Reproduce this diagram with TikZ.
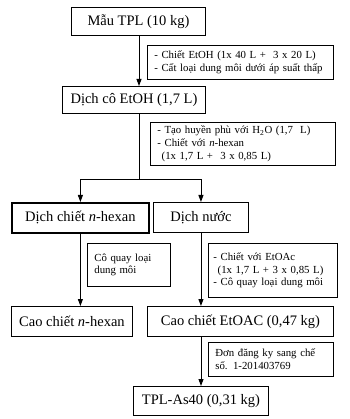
\documentclass[tikz,border=0pt]{standalone}
\usepackage{fontspec}
\setmainfont{Liberation Serif}
\usetikzlibrary{arrows.meta}

\begin{document}
\begin{tikzpicture}[x=1pt,y=-1pt,
    box/.style={draw,line width=0.9pt,inner sep=0pt,anchor=north west,
        font=\fontsize{14.5}{16}\selectfont},
    thickbox/.style={box,line width=1.8pt},
    note/.style={draw,line width=0.7pt,anchor=north west,inner xsep=7pt,
        inner ysep=0pt,align=left,font=\fontsize{10.8}{12.8}\selectfont},
    link/.style={line width=0.9pt},
    arr/.style={link,-{Triangle[length=7pt,width=5pt]}}]
    \useasboundingbox (0,0) rectangle (349,419);

    % Columns for the connectors
    \coordinate (spine) at (139,0);
    \coordinate (fork) at (139,179);
    \coordinate (wcol) at (201,0);

    % Main boxes
    \node[box,minimum width=134pt,minimum height=28pt] (tpl) at (71,7) {Mẫu TPL (10 kg)};
    \node[box,minimum width=143pt,minimum height=27pt] (etoh) at (62,86) {Dịch cô EtOH (1,7 L)};
    \node[thickbox,minimum width=137pt,minimum height=30pt] (hexan) at (11,202) {Dịch chiết \textit{n}-hexan};
    \node[box,minimum width=95pt,minimum height=30pt] (water) at (153,202) {Dịch nước};
    \node[box,minimum width=121pt,minimum height=30pt] (caohex) at (11,306) {Cao chiết \textit{n}-hexan};
    \node[box,minimum width=186pt,minimum height=30pt] (caoac) at (147,306) {Cao chiết EtOAC (0,47 kg)};
    \node[box,minimum width=135pt,minimum height=29pt] (as40) at (133,386) {TPL-As40 (0,31 kg)};

    % Notes
    \node[note,text width=172pt,minimum height=34pt] (n1) at (147,45)
        {- Chiết EtOH (1x 40 L +~~3 x 20 L)\\- Cất loại dung môi dưới áp suất thấp};
    \node[note,text width=171pt,minimum height=43pt] (n2) at (150,122)
        {- Tạo huyền phù với H\textsubscript{2}O (1,7~ L)\\- Chiết với \textit{n}-hexan\\
        \hspace*{0.4em}(1x 1,7 L +~~3 x 0,85 L)};
    \node[note,text width=69pt,minimum height=43pt] (n3) at (87,243)
        {Cô quay loại\\dung môi};
    \node[note,inner xsep=5pt,text width=119pt,minimum height=54pt] (n4) at (208,243)
        {- Chiết với EtOAc\\\hspace*{0.4em}(1x 1,7 L +~3 x 0,85 L)\\- Cô quay loại dung môi};
    \node[note,text width=111pt,minimum height=34pt] (n5) at (208,342)
        {Đơn đăng ky sang chế\\số. 1-201403769};

    % Connectors
    \draw[arr] (tpl.south -| spine) -- (etoh.north -| spine);
    \draw[link] (etoh.south -| spine) -- (fork);
    \draw[arr] (fork) -| (hexan.north);
    \draw[arr] (fork) -| (water.north);
    \draw[arr] (hexan.south) -- (hexan.south |- caohex.north);
    \draw[arr] (water.south) -- (water.south |- caoac.north);
    \draw[arr] (caoac.south -| wcol) -- (as40.north -| wcol);
\end{tikzpicture}
\end{document}
